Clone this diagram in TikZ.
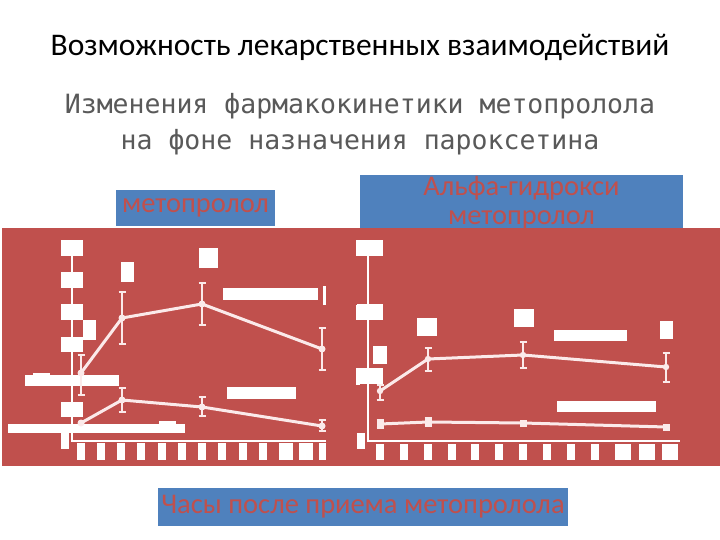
\documentclass[tikz,border=0pt]{standalone}
\usepackage{fontspec}
\usetikzlibrary{calc}
\setmainfont{Carlito}
\newfontfamily\subfont{DejaVu Sans Mono}
\definecolor{bred}{HTML}{C0504D}
\definecolor{bblue}{HTML}{4F81BD}
\definecolor{tgray}{HTML}{595959}
\definecolor{lw}{HTML}{FBEAEA}
\begin{document}
\begin{tikzpicture}[x=1pt,y=-1pt,
  wb/.style={fill=white,draw=none},
  curve/.style={draw=lw,line width=3pt},
  ebar/.style={draw=lw,line width=1.5pt},
  lbl/.style={fill=bblue,text=bred,inner sep=0pt,align=center}]
\useasboundingbox (0,0) rectangle (720,540);
\fill[white] (0,0) rectangle (720,540);
\node[text=black,font=\fontsize{31.5}{34}\selectfont] (title) at (360,47) {Возможность лекарственных взаимодействий};
\node[text=tgray,font=\subfont\fontsize{26.5}{36}\selectfont,align=center] (sub) at (360,124) {Изменения фармакокинетики метопролола\\на фоне назначения пароксетина};
\fill[bred] (2,228) rectangle (720,466);
\node[lbl,minimum width=159pt,minimum height=36pt,font=\fontsize{28.5}{30}\selectfont] (l1) at (195.5,208) {метопролол};
\node[lbl,minimum width=323pt,minimum height=55pt,font=\fontsize{28.5}{29}\selectfont] (l2) at (521.5,203) {Альфа-гидрокси\\метопролол};
\node[lbl,minimum width=410pt,minimum height=38pt,font=\fontsize{28.5}{30}\selectfont] (l3) at (363,507) {Часы после приема метопролола};
\fill[bred] (2,228) rectangle (720,232);
% left panel
\draw[white,line width=1.5pt] (72,248) -- (72,441) -- (326,441);
\foreach \a/\b in {240/256,272/288,304/320,337/352,402/417} \fill[wb] (61,\a) rectangle (83,\b);
\fill[wb] (61,433) rectangle (69,449);
\fill[wb] (83,320) rectangle (96,340);
\fill[wb] (121,262) rectangle (134,282);
\fill[wb] (199,248) rectangle (218,268);
\fill[wb] (223,288) rectangle (318,300);
\fill[wb] (323,286) rectangle (326,305);
\fill[wb] (25,375) rectangle (119,386);
\fill[wb] (33,373) rectangle (50,376);
\fill[wb] (227,387) rectangle (296,399);
\fill[wb] (8,424) rectangle (185,433);
\fill[wb] (159,421) rectangle (176,424);
\foreach \c in {81,101,121,141,162,182,202,222,243,263} \fill[wb] (\c-4,443) rectangle (\c+4,460);
\foreach \c in {286,306} \fill[wb] (\c-7,443) rectangle (\c+7,460);
\fill[wb] (319,443) rectangle (326,460);
\fill[wb] (356,240) rectangle (360,256);
\fill[wb] (356,305) rectangle (360,320);
\fill[wb] (356,368) rectangle (360,385);
\coordinate (a1) at (81,373); \coordinate (a2) at (122,318); \coordinate (a3) at (202,304); \coordinate (a4) at (322,349);
\coordinate (b1) at (81,423); \coordinate (b2) at (122,400); \coordinate (b3) at (202,407); \coordinate (b4) at (322,426);
\draw[curve] (a1) -- (a2) -- (a3) -- (a4);
\draw[curve] (b1) -- (b2) -- (b3) -- (b4);
\foreach \x/\lo/\hi in {81/355/395,122/292/344,202/283/325,322/328/370,122/388/412,202/397/416,322/420/431}
  \draw[ebar] (\x,\lo) -- (\x,\hi) (\x-3.5,\lo) -- (\x+3.5,\lo) (\x-3.5,\hi) -- (\x+3.5,\hi);
\foreach \p in {a1,a2,a3,a4,b1,b2,b3,b4} \fill[lw] (\p) circle (3.5);
% right panel
\draw[white,line width=1.5pt] (368,248) -- (368,441) -- (680,441);
\foreach \a/\b in {240/256,304/320,368/384} \fill[wb] (357,\a) rectangle (383,\b);
\fill[wb] (357,433) rectangle (365,449);
\fill[wb] (373,346) rectangle (387,364);
\fill[wb] (417,318) rectangle (437,336);
\fill[wb] (514,309) rectangle (534,327);
\fill[wb] (554,330) rectangle (627,341);
\fill[wb] (660,321) rectangle (673,339);
\fill[wb] (557,401) rectangle (656,412);
\foreach \c in {380,404,428,452,475,499,523,547,571,595} \fill[wb] (\c-4,444) rectangle (\c+4,460);
\foreach \c in {623,647,670} \fill[wb] (\c-8,444) rectangle (\c+8,460);
\coordinate (c1) at (380,391); \coordinate (c2) at (428,359); \coordinate (c3) at (523,355); \coordinate (c4) at (666,367);
\coordinate (d1) at (380,424); \coordinate (d2) at (428,422); \coordinate (d3) at (523,423); \coordinate (d4) at (666,427);
\draw[curve] (c1) -- (c2) -- (c3) -- (c4);
\draw[curve] (d1) -- (d2) -- (d3) -- (d4);
\foreach \x/\lo/\hi in {380/385/400,428/348/371,523/342/368,666/353/382,380/420/428,428/418/426}
  \draw[ebar] (\x,\lo) -- (\x,\hi) (\x-3.5,\lo) -- (\x+3.5,\lo) (\x-3.5,\hi) -- (\x+3.5,\hi);
\foreach \p in {c1,c2,c3,c4} \fill[lw] (\p) circle (3.2);
\foreach \p in {d1,d2,d3,d4} \fill[lw] ($(\p)+(-3.5,-3.5)$) rectangle ($(\p)+(3.5,3.5)$);
\end{tikzpicture}
\end{document}
